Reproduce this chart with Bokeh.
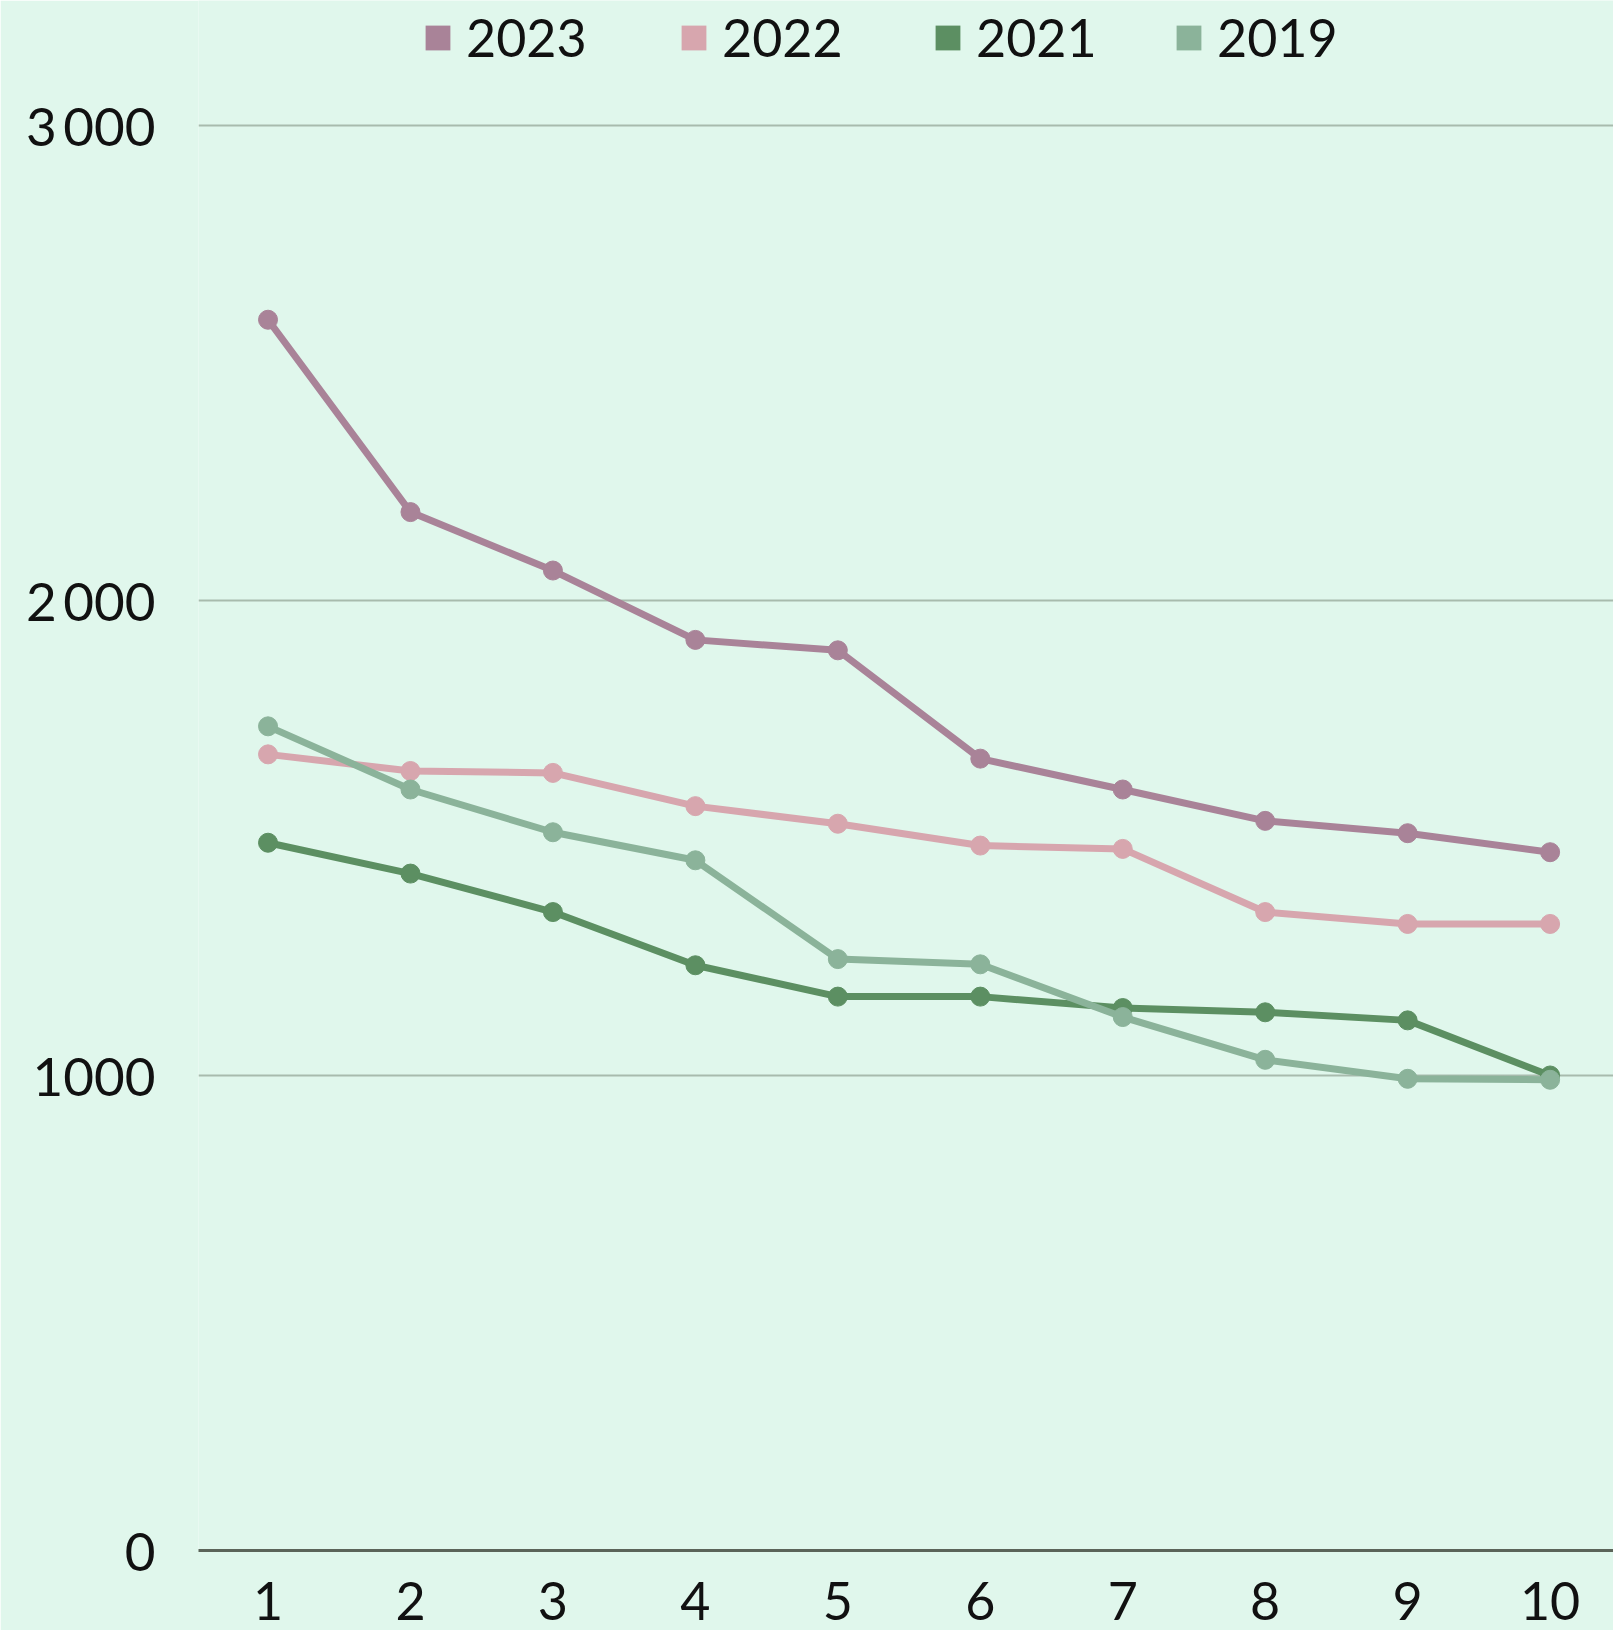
from bokeh.plotting import figure
from bokeh.models import Legend, LegendItem, FixedTicker, Range1d, ColumnDataSource
from bokeh.embed import file_html
from bokeh.resources import INLINE

rank = [1, 2, 3, 4, 5, 6, 7, 8, 9, 10]
s2023 = [2591, 2186, 2063, 1917, 1895, 1667, 1602, 1536, 1510, 1470]
s2022 = [1676, 1641, 1637, 1567, 1530, 1484, 1477, 1344, 1319, 1319]
s2021 = [1490, 1425, 1344, 1232, 1166, 1166, 1142, 1133, 1116, 1000]
s2019 = [1735, 1602, 1512, 1453, 1245, 1234, 1123, 1033, 993, 991]
series = [("2023", s2023, "#a98398"), ("2022", s2022, "#d7a6ae"),
          ("2021", s2021, "#5c8f62"), ("2019", s2019, "#8bb39a")]
y_ticks = [0, 1000, 2000, 3000]
y_labels = {0: "0", 1000: "1000", 2000: "2\u2009000", 3000: "3\u2009000"}

BG = "#e0f7ec"
FONT = "Lato"
W = 1613
H = 1630
LEFT = 198
BOT = 80
legend_x = [224, 480, 734, 975]

p = figure(width=W, height=H, output_backend="svg", toolbar_location=None,
           x_range=Range1d(0.512, 10.445), y_range=Range1d(0, 3263),
           min_border_left=LEFT, min_border_right=0, min_border_top=0, min_border_bottom=BOT)
p.background_fill_color = BG
p.border_fill_color = BG
p.outline_line_color = None

p.xgrid.grid_line_color = None
p.ygrid.grid_line_color = "#a8bbad"
p.ygrid.grid_line_width = 2

p.yaxis.ticker = FixedTicker(ticks=y_ticks)
p.yaxis.major_label_overrides = y_labels
p.yaxis.axis_line_color = None
p.yaxis.major_tick_line_color = None
p.yaxis.minor_tick_line_color = None
p.yaxis.major_label_standoff = 37
p.yaxis.major_label_text_font = FONT
p.yaxis.major_label_text_font_size = "53px"
p.yaxis.major_label_text_color = "#111111"

p.xaxis.ticker = FixedTicker(ticks=rank)
p.xaxis.axis_line_color = "#5b6459"
p.xaxis.axis_line_width = 3
p.xaxis.major_tick_line_color = None
p.xaxis.minor_tick_line_color = None
p.xaxis.major_label_standoff = 25
p.xaxis.major_label_text_font = FONT
p.xaxis.major_label_text_font_size = "52px"
p.xaxis.major_label_text_color = "#111111"

frame_h = H - BOT
for (name, vals, col), lx in zip(series, legend_x):
    src = ColumnDataSource(dict(x=rank, y=vals))
    p.line("x", "y", source=src, line_color=col, line_width=7)
    p.scatter("x", "y", source=src, size=19, fill_color=col, line_color=col)
    dummy = p.quad(left=[float("nan")], right=[float("nan")], bottom=[float("nan")],
                   top=[float("nan")], fill_color=col, line_color=None)
    legend = Legend(items=[LegendItem(label=name, renderers=[dummy])],
                    orientation="horizontal", location=(lx, frame_h - 38 - 30),
                    background_fill_alpha=0, border_line_color=None,
                    label_text_font=FONT, label_text_font_size="52px",
                    label_text_color="#111111", glyph_width=31, glyph_height=31,
                    label_standoff=13, spacing=0, padding=0, margin=0)
    p.add_layout(legend, "center")

open("out.html", "w").write(file_html(p, INLINE))
